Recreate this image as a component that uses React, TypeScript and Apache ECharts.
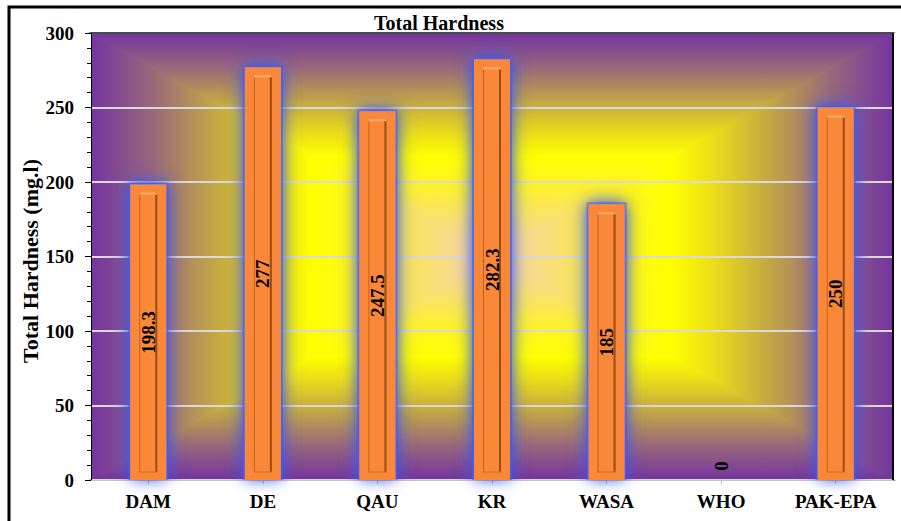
import React, { useEffect, useRef } from "react";
import * as echarts from "echarts";

const categories = ["DAM", "DE", "QAU", "KR", "WASA", "WHO", "PAK-EPA"];
const hardness = [198.3, 277, 247.5, 282.3, 185, 0, 250];
const yTicks = { min: 0, max: 300, interval: 50 };
const chartTitle = "Total Hardness";
const yTitle = "Total Hardness (mg.l)";

const SERIF = "'Times New Roman', 'Liberation Serif', serif";
const W = 901;
const H = 521;
const G = { left: 91, top: 33, right: 8, bottom: 41 };
const BAR_W = 36;

const stops = [
  { offset: 0, color: "#7434A0" },
  { offset: 0.15, color: "#98667C" },
  { offset: 0.32, color: "#C6AC40" },
  { offset: 0.45, color: "#ECDE18" },
  { offset: 0.55, color: "#FFFF00" },
  { offset: 0.66, color: "#FFF61E" },
  { offset: 0.8, color: "#FAE462" },
  { offset: 1, color: "#F6D3B4" },
];

export default function App() {
  const ref = useRef<HTMLDivElement>(null);
  useEffect(() => {
    if (!ref.current) return;
    const chart = echarts.init(ref.current, null, { renderer: "svg" });
    const L = G.left;
    const T = G.top;
    const R = W - G.right;
    const B = H - G.bottom;
    const cx = (L + R) / 2;
    const cy = (T + B) / 2;
    const grad = (x: number, y: number, x2: number, y2: number) => ({
      type: "linear",
      x,
      y,
      x2,
      y2,
      colorStops: stops,
    });
    const tri = (pts: number[][], g: any, stroke: boolean) => ({
      type: "polygon",
      z: -5,
      silent: true,
      shape: { points: pts },
      style: stroke
        ? { fill: g, stroke: g, lineWidth: 1.5, lineJoin: "miter" }
        : { fill: g },
    });
    const option: any = {
      animation: false,
      backgroundColor: "#ffffff",
      title: {
        text: chartTitle,
        left: 434,
        top: 8,
        textAlign: "center",
        textStyle: {
          fontFamily: SERIF,
          fontWeight: "bold",
          fontSize: 20,
          color: "#000",
        },
      },
      grid: { left: G.left, right: G.right, top: G.top, bottom: G.bottom },
      xAxis: {
        type: "category",
        data: categories,
        axisLine: { show: true, lineStyle: { color: "#C4C4C4", width: 1 } },
        axisTick: {
          show: true,
          alignWithLabel: true,
          length: 4,
          lineStyle: { color: "#BFBFBF" },
        },
        axisLabel: {
          fontFamily: SERIF,
          fontWeight: "bold",
          fontSize: 19,
          color: "#000",
          margin: 12,
        },
      },
      yAxis: {
        type: "value",
        min: yTicks.min,
        max: yTicks.max,
        interval: yTicks.interval,
        axisLine: { show: true, lineStyle: { color: "#000", width: 1 } },
        axisTick: { show: true, length: 6, lineStyle: { color: "#000", width: 1 } },
        minorTick: {
          show: true,
          splitNumber: 5,
          length: 4,
          lineStyle: { color: "#000", width: 1 },
        },
        axisLabel: {
          fontFamily: SERIF,
          fontWeight: "bold",
          fontSize: 19,
          color: "#000",
          margin: 17,
        },
        splitLine: { show: true, lineStyle: { color: "#DADADA", width: 2 } },
      },
      graphic: [
        tri([[L, T], [L, B], [cx, cy]], grad(0, 0, 1, 0), false),
        tri([[R, T], [R, B], [cx, cy]], grad(1, 0, 0, 0), false),
        tri([[L, T], [R, T], [cx, cy]], grad(0, 0, 0, 1), true),
        tri([[L, B], [R, B], [cx, cy]], grad(0, 1, 0, 0), true),
        {
          type: "line",
          z: 50,
          silent: true,
          shape: { x1: L, y1: T, x2: R, y2: T },
          style: { stroke: "#1A1A1A", lineWidth: 1.5 },
        },
        {
          type: "line",
          z: 50,
          silent: true,
          shape: { x1: R, y1: T, x2: R, y2: B },
          style: { stroke: "#000", lineWidth: 2 },
        },
        {
          type: "rect",
          z: 50,
          silent: true,
          shape: { x: 9, y: 7, width: 1200, height: 1200 },
          style: { fill: "transparent", stroke: "#000", lineWidth: 3 },
        },
        {
          type: "text",
          z: 50,
          silent: true,
          x: 30,
          y: 261,
          rotation: Math.PI / 2,
          style: {
            text: yTitle,
            fontFamily: SERIF,
            fontWeight: "bold",
            fontSize: 22,
            fill: "#000",
            align: "center",
            verticalAlign: "middle",
          },
        },
      ],
      series: [
        {
          type: "custom",
          z: 1,
          silent: true,
          clip: true,
          data: hardness.map((v, i) => [i, v]),
          renderItem: (params: any, api: any) => {
            const idx = api.value(0);
            const val = api.value(1);
            const top = api.coord([idx, val]);
            const bot = api.coord([idx, 0]);
            if (bot[1] - top[1] < 1) return null;
            return {
              type: "rect",
              shape: {
                x: top[0] - BAR_W / 2 - 2,
                y: top[1] - 2,
                width: BAR_W + 4,
                height: bot[1] - top[1] + 2,
              },
              style: {
                fill: "rgba(80,100,225,0.6)",
                shadowBlur: 20,
                shadowColor: "rgba(55,85,240,1)",
              },
            };
          },
        },
        {
          type: "bar",
          data: hardness,
          barWidth: BAR_W,
          z: 2,
          itemStyle: {
            color: "#F98939",
            shadowBlur: 14,
            shadowColor: "rgba(55,85,240,0.95)",
          },
        },
        {
          type: "custom",
          z: 3,
          data: hardness.map((v, i) => [i, v]),
          renderItem: (params: any, api: any) => {
            const idx = api.value(0);
            const val = api.value(1);
            const top = api.coord([idx, val]);
            const bot = api.coord([idx, 0]);
            const x = top[0];
            const children: any[] = [];
            const x0 = x - BAR_W / 2 + 9;
            const x1 = x + BAR_W / 2 - 9;
            const y0 = top[1] + 8;
            const y1 = bot[1] - 8;
            if (y1 - y0 > 4) {
              children.push(
                {
                  type: "line",
                  shape: { x1: x0 + 0.5, y1: y0, x2: x0 + 0.5, y2: y1 },
                  style: { stroke: "#C4601F", lineWidth: 1 },
                },
                {
                  type: "line",
                  shape: { x1: x1 - 1, y1: y0, x2: x1 - 1, y2: y1 },
                  style: { stroke: "#9A4C18", lineWidth: 2 },
                },
                {
                  type: "line",
                  shape: { x1: x0, y1: y0 + 1, x2: x1, y2: y0 + 1 },
                  style: { stroke: "#FFAA6C", lineWidth: 2 },
                },
                {
                  type: "line",
                  shape: { x1: x0, y1: y1, x2: x1, y2: y1 },
                  style: { stroke: "#CF6A28", lineWidth: 1 },
                }
              );
            }
            const h = bot[1] - top[1];
            const ly = h < 28 ? bot[1] - 14 : (top[1] + bot[1]) / 2;
            children.push({
              type: "text",
              x: x,
              y: ly,
              rotation: Math.PI / 2,
              style: {
                text: String(val),
                fontFamily: SERIF,
                fontWeight: "bold",
                fontSize: 19,
                fill: "#000",
                align: "center",
                verticalAlign: "middle",
              },
            });
            return { type: "group", children };
          },
        },
      ],
    };
    chart.setOption(option);
    return () => chart.dispose();
  }, []);
  return (
    <div
      ref={ref}
      style={{ position: "absolute", left: 0, top: 0, width: W, height: H }}
    />
  );
}
